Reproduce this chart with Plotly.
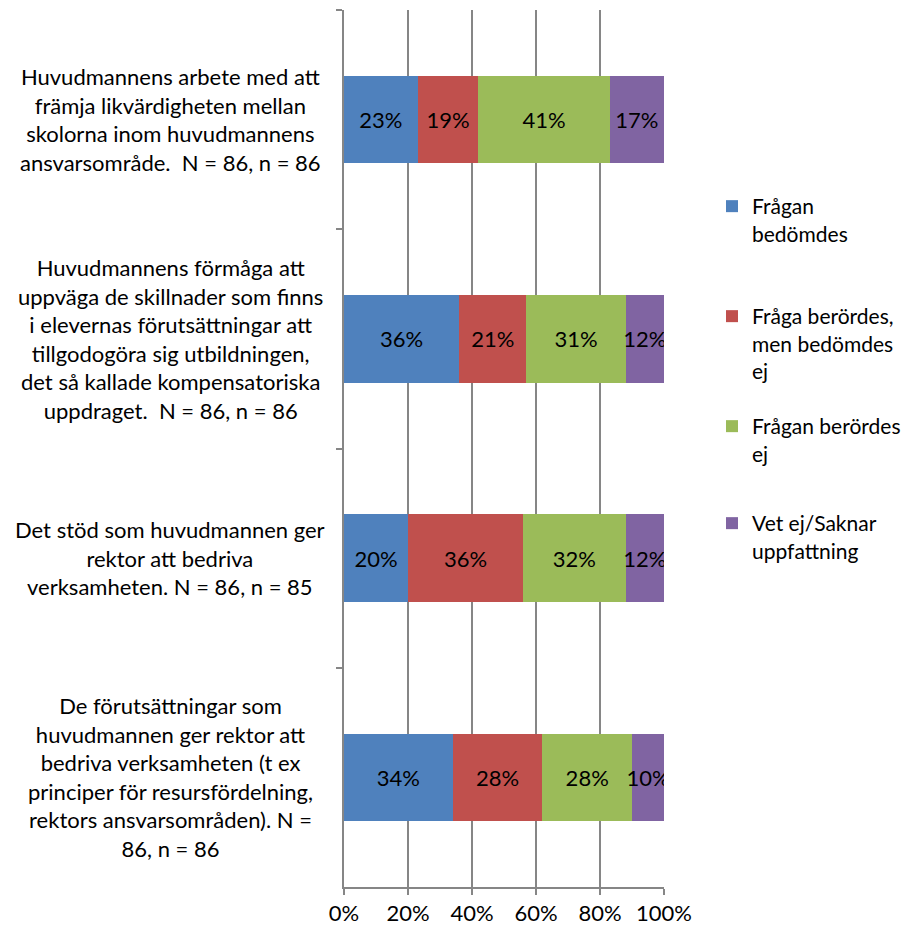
import plotly.graph_objects as go

CATEGORIES = [
    "Huvudmannens arbete med att<br>främja likvärdigheten mellan<br>skolorna inom huvudmannens<br>ansvarsområde.  N = 86, n = 86",
    "Huvudmannens förmåga att<br>uppväga de skillnader som finns<br>i elevernas förutsättningar att<br>tillgodogöra sig utbildningen,<br>det så kallade kompensatoriska<br>uppdraget.  N = 86, n = 86",
    "Det stöd som huvudmannen ger<br>rektor att bedriva<br>verksamheten. N = 86, n = 85",
    "De förutsättningar som<br>huvudmannen ger rektor att<br>bedriva verksamheten (t ex<br>principer för resursfördelning,<br>rektors ansvarsområden). N =<br>86, n = 86",
]

SERIES = [
    "Frågan<br>bedömdes",
    "Fråga berördes,<br>men bedömdes<br>ej",
    "Frågan berördes<br>ej",
    "Vet ej/Saknar<br>uppfattning",
]

bedomdes = [23, 36, 20, 34]
berordes_ej_bedomd = [19, 21, 36, 28]
berordes_ej = [41, 31, 32, 28]
vet_ej = [17, 12, 12, 10]

X_TICKS = [0, 20, 40, 60, 80, 100]
X_TICK_LABELS = ["0%", "20%", "40%", "60%", "80%", "100%"]

VALUES = [bedomdes, berordes_ej_bedomd, berordes_ej, vet_ej]
COLORS = ["#4F81BD", "#C0504D", "#9BBB59", "#8064A2"]
LEGEND_TOP = [178, 288, 398, 495]  # px from top of the figure

W, H = 914, 931
PLOT_L, PLOT_R = 336, 656
FONT = "Lato"
FS = 22
KEYS = ["category %d" % i for i in range(len(CATEGORIES))]

fig = go.Figure()
for i, (name, vals, color) in enumerate(zip(SERIES, VALUES, COLORS)):
    fig.add_trace(
        go.Bar(
            y=KEYS,
            x=vals,
            name=name,
            orientation="h",
            marker=dict(color=color, line=dict(width=0)),
            text=[f"{v}%" for v in vals],
            textposition="inside",
            insidetextanchor="middle",
            textangle=0,
            constraintext="none",
            textfont=dict(family=FONT, size=FS, color="black"),
            legend="legend" if i == 0 else f"legend{i + 1}",
        )
    )

# category labels, centred like the original
for key, label in zip(KEYS, CATEGORIES):
    fig.add_annotation(
        x=(162 - PLOT_L) / (PLOT_R - PLOT_L),
        xref="paper",
        y=key,
        yref="y",
        text=label,
        showarrow=False,
        xanchor="center",
        yanchor="middle",
        align="center",
        font=dict(family=FONT, size=FS, color="black"),
    )

legends = {}
for i, top in enumerate(LEGEND_TOP):
    legends["legend" if i == 0 else f"legend{i + 1}"] = dict(
        xref="container",
        yref="container",
        x=704 / W,
        y=1 - top / H,
        xanchor="left",
        yanchor="top",
        valign="top",
        bgcolor="rgba(0,0,0,0)",
        font=dict(family=FONT, size=21, color="black"),
    )

fig.update_layout(
    barmode="stack",
    bargap=0.6,
    width=W,
    height=H,
    margin=dict(l=PLOT_L, r=W - PLOT_R, t=2, b=52),
    paper_bgcolor="white",
    plot_bgcolor="white",
    font=dict(family=FONT, size=FS, color="black"),
    showlegend=True,
    **legends,
)

fig.update_xaxes(
    range=[0, 100],
    tickvals=X_TICKS,
    ticktext=X_TICK_LABELS,
    showgrid=True,
    gridcolor="#868686",
    gridwidth=1.5,
    zeroline=False,
    showline=True,
    linecolor="#868686",
    linewidth=1.5,
    ticks="outside",
    ticklen=6,
    tickcolor="#868686",
    tickwidth=1.5,
    tickfont=dict(family=FONT, size=FS, color="black"),
)

fig.update_yaxes(
    autorange="reversed",
    showticklabels=False,
    showline=True,
    linecolor="#868686",
    linewidth=1.5,
    ticks="outside",
    tickson="boundaries",
    ticklen=6,
    tickcolor="#868686",
    tickwidth=1.5,
    showgrid=False,
)

fig.write_html("out.html")
